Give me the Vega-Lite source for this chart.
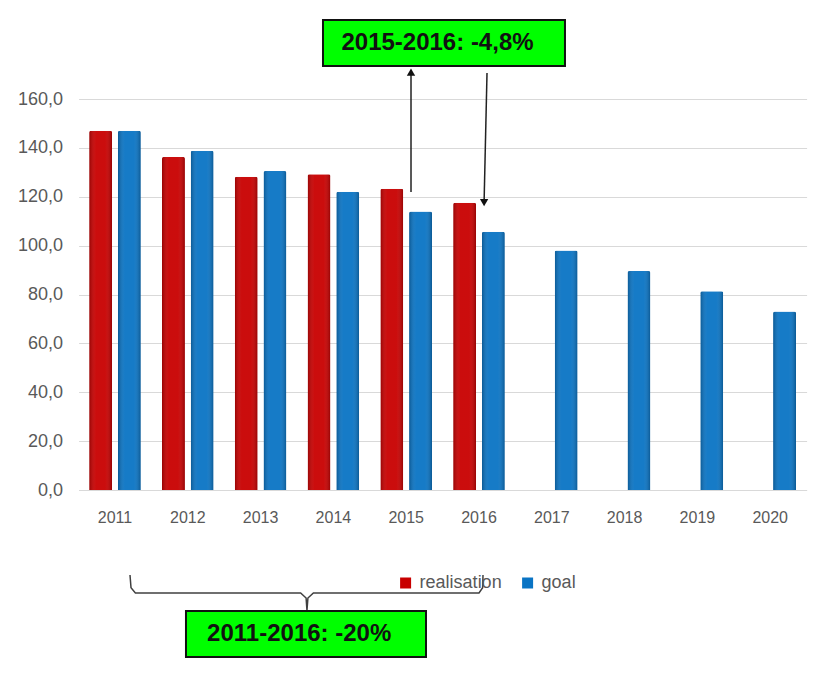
{
  "$schema": "https://vega.github.io/schema/vega-lite/v6.json",
  "autosize": "none",
  "width": 728,
  "height": 391,
  "padding": {"left": 78.6, "top": 99, "right": 24.4, "bottom": 198},
  "background": "white",
  "config": {
    "view": {"stroke": null},
    "font": "Liberation Sans"
  },
  "datasets": {
    "bars": [
      {"year": "2011", "series": "realisation", "value": 147.0},
      {"year": "2011", "series": "goal", "value": 147.0},
      {"year": "2012", "series": "realisation", "value": 136.3},
      {"year": "2012", "series": "goal", "value": 138.8},
      {"year": "2013", "series": "realisation", "value": 128.2},
      {"year": "2013", "series": "goal", "value": 130.5},
      {"year": "2014", "series": "realisation", "value": 129.2},
      {"year": "2014", "series": "goal", "value": 122.0},
      {"year": "2015", "series": "realisation", "value": 123.3},
      {"year": "2015", "series": "goal", "value": 114.0},
      {"year": "2016", "series": "realisation", "value": 117.5},
      {"year": "2016", "series": "goal", "value": 105.7},
      {"year": "2017", "series": "goal", "value": 98.0},
      {"year": "2018", "series": "goal", "value": 89.6},
      {"year": "2019", "series": "goal", "value": 81.3},
      {"year": "2020", "series": "goal", "value": 73.0}
    ]
  },
  "resolve": {"scale": {"x": "independent"}},
  "layer": [
    {
      "data": {"name": "bars"},
      "mark": {"type": "bar", "cornerRadiusTopLeft": 2, "cornerRadiusTopRight": 2},
      "encoding": {
        "x": {
          "field": "year", "type": "nominal", "sort": null,
          "scale": {"paddingInner": 0.25, "paddingOuter": 0.125},
          "axis": {
            "title": null, "labelAngle": 0, "ticks": false, "grid": false,
            "domainColor": "#D9D9D9", "domainWidth": 1,
            "labelFont": "Liberation Sans", "labelFontSize": 16,
            "labelColor": "#595959", "labelPadding": 19
          }
        },
        "xOffset": {
          "field": "series", "type": "nominal",
          "scale": {"domain": ["realisation", "goal"], "paddingInner": 0.2, "paddingOuter": 0.05}
        },
        "y": {
          "field": "value", "type": "quantitative",
          "scale": {"domain": [0, 160], "nice": false},
          "axis": {
            "title": null, "values": [0, 20, 40, 60, 80, 100, 120, 140, 160],
            "labelExpr": "replace(format(datum.value, '.1f'), '.', ',')",
            "ticks": false, "domain": false, "gridColor": "#D9D9D9", "gridWidth": 1,
            "labelFontSize": 18, "labelColor": "#595959", "labelPadding": 16
          }
        },
        "color": {
          "field": "series", "type": "nominal",
          "scale": {"domain": ["realisation", "goal"], "range": ["#C80000", "#0A74C4"]},
          "legend": {
            "title": null, "orient": "none", "direction": "horizontal",
            "legendX": 318, "legendY": 475, "symbolType": "square", "symbolSize": 121,
            "symbolStrokeWidth": 0, "labelFontSize": 18, "labelColor": "#595959",
            "columnPadding": 16, "labelOffset": 5
          }
        }
      }
    },
    {
      "data": {"name": "bars"},
      "mark": {
        "type": "bar", "cornerRadiusTopLeft": 2, "cornerRadiusTopRight": 2,
        "fill": {
          "gradient": "linear", "x1": 0, "y1": 0, "x2": 1, "y2": 0,
          "stops": [
            {"offset": 0, "color": "rgba(0,0,0,0.25)"},
            {"offset": 0.3, "color": "rgba(255,255,255,0.05)"},
            {"offset": 0.7, "color": "rgba(255,255,255,0.05)"},
            {"offset": 1, "color": "rgba(0,0,0,0.25)"}
          ]
        }
      },
      "encoding": {
        "x": {"field": "year", "type": "nominal", "sort": null, "scale": {"paddingInner": 0.25, "paddingOuter": 0.125}, "axis": null},
        "xOffset": {"field": "series", "type": "nominal", "scale": {"domain": ["realisation", "goal"], "paddingInner": 0.2, "paddingOuter": 0.05}},
        "y": {"field": "value", "type": "quantitative", "scale": {"domain": [0, 160], "nice": false}}
      }
    },
    {
      "data": {"values": [
        {"ax": 2015.066, "ay": 121.9, "ax2": 2015.066, "ay2": 170.6},
        {"ax": 2016.11, "ay": 170.6, "ax2": 2016.07, "ay2": 117.8}
      ]},
      "mark": {"type": "rule", "color": "#222222", "strokeWidth": 1.5},
      "encoding": {
        "x": {"field": "ax", "type": "quantitative", "scale": {"domain": [2010.5, 2020.5], "nice": false, "zero": false}, "axis": null},
        "x2": {"field": "ax2"},
        "y": {"field": "ay", "type": "quantitative", "scale": {"domain": [0, 160], "nice": false}},
        "y2": {"field": "ay2"}
      }
    },
    {
      "data": {"values": [
        {"ax": 2015.066, "ay": 171.0, "shape": "triangle-up"},
        {"ax": 2016.07, "ay": 117.6, "shape": "triangle-down"}
      ]},
      "mark": {"type": "point", "filled": true, "color": "#111111", "size": 70, "opacity": 1},
      "encoding": {
        "x": {"field": "ax", "type": "quantitative", "scale": {"domain": [2010.5, 2020.5], "nice": false, "zero": false}, "axis": null},
        "y": {"field": "ay", "type": "quantitative", "scale": {"domain": [0, 160], "nice": false}},
        "shape": {"field": "shape", "type": "nominal", "scale": null, "legend": null}
      }
    },
    {
      "data": {"values": [
        {"o": 1, "ax": 2011.206, "ay": -34.8},
        {"o": 2, "ax": 2011.22, "ay": -40.0},
        {"o": 3, "ax": 2011.28, "ay": -42.1},
        {"o": 4, "ax": 2013.55, "ay": -42.1},
        {"o": 5, "ax": 2013.625, "ay": -44.2},
        {"o": 6, "ax": 2013.637, "ay": -49.3},
        {"o": 7, "ax": 2013.65, "ay": -44.2},
        {"o": 8, "ax": 2013.725, "ay": -42.1},
        {"o": 9, "ax": 2016.0, "ay": -42.1},
        {"o": 10, "ax": 2016.05, "ay": -40.0},
        {"o": 11, "ax": 2016.055, "ay": -34.8}
      ]},
      "mark": {"type": "line", "color": "#404040", "strokeWidth": 1.5},
      "encoding": {
        "x": {"field": "ax", "type": "quantitative", "scale": {"domain": [2010.5, 2020.5], "nice": false, "zero": false}, "axis": null},
        "y": {"field": "ay", "type": "quantitative", "scale": {"domain": [0, 160], "nice": false}},
        "order": {"field": "o", "type": "quantitative"}
      }
    },
    {
      "data": {"values": [
        {"ax": 2013.857, "ax2": 2017.181, "ay": 192.3, "ay2": 173.5},
        {"ax": 2011.975, "ax2": 2015.272, "ay": -49.5, "ay2": -68.3}
      ]},
      "mark": {"type": "rect", "fill": "#00FF00", "stroke": "#111111", "strokeWidth": 2},
      "encoding": {
        "x": {"field": "ax", "type": "quantitative", "scale": {"domain": [2010.5, 2020.5], "nice": false, "zero": false}, "axis": null},
        "x2": {"field": "ax2"},
        "y": {"field": "ay", "type": "quantitative", "scale": {"domain": [0, 160], "nice": false}},
        "y2": {"field": "ay2"}
      }
    },
    {
      "data": {"values": [
        {"ax": 2015.43, "ay": 182.9, "label": "2015-2016: -4,8%"},
        {"ax": 2013.53, "ay": -58.9, "label": "2011-2016: -20%"}
      ]},
      "mark": {"type": "text", "font": "Liberation Sans", "fontWeight": "bold", "fontSize": 24, "color": "#111111", "align": "center", "baseline": "middle"},
      "encoding": {
        "x": {"field": "ax", "type": "quantitative", "scale": {"domain": [2010.5, 2020.5], "nice": false, "zero": false}, "axis": null},
        "y": {"field": "ay", "type": "quantitative", "scale": {"domain": [0, 160], "nice": false}},
        "text": {"field": "label"}
      }
    }
  ]
}
